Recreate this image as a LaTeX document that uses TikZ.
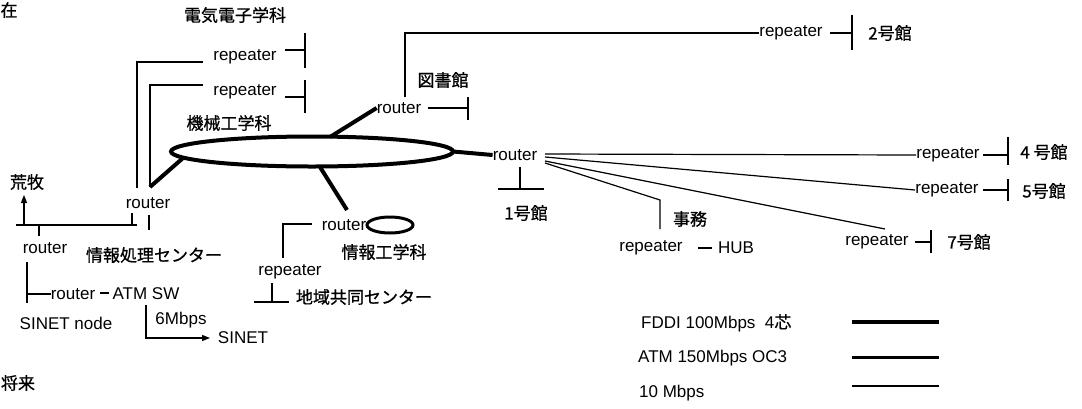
\documentclass[tikz,border=0pt]{standalone}
\usepackage{fontspec}
\setmainfont{Liberation Sans}
\newfontfamily\jpf{Noto Sans CJK JP}[FakeBold=0.8]
\usetikzlibrary{arrows.meta,shapes.geometric}
\begin{document}
\begin{tikzpicture}[x=1pt,y=-1pt,
  lab/.style={inner sep=0pt,font=\fontsize{17}{20}\selectfont},
  jlab/.style={inner sep=0pt,font=\fontsize{17}{20}\selectfont\jpf},
  tline/.style={line width=1.2pt},
  fddi/.style={line width=4pt},
  atmline/.style={line width=3pt},
  arr/.style={tline,-{Triangle[length=8pt,width=6pt]}},
  ringshape/.style={draw,ellipse,fddi,inner sep=0pt,outer sep=0pt}]
\useasboundingbox (0,0) rectangle (1082,408);

% ---------- text nodes ----------
\node[jlab] (now) at (9,10) {在};
\node[jlab] (future) at (18,383) {将来};
\node[jlab] (denki) at (235,15) {電気電子学科};
\node[lab] (rep1) at (245,57) {repeater};
\node[lab] (rep2) at (245,92) {repeater};
\node[jlab] (kikai) at (229,123) {機械工学科};
\node[jlab] (aramaki) at (27,182) {荒牧};
\node[lab] (rInfo) at (148,203) {router};
\node[lab] (rLow) at (45,248) {router};
\node[jlab] (center) at (154,255) {情報処理センター};
\node[lab] (rAtm) at (73,294) {router};
\node[lab] (atm) at (146,294) {ATM SW};
\node[lab] (sinetnode) at (66,323) {SINET node};
\node[lab] (mbps) at (181,320) {6Mbps};
\node[lab] (sinet) at (243,338) {SINET};

\node[lab] (rLib) at (399,108) {router};
\node[jlab] (lib) at (443,80) {図書館};
\node[lab] (rep2g) at (791,33) {repeater};
\node[jlab] (b2) at (890,33) {2号館};
\node[lab] (rMain) at (515,155) {router};
\node[jlab] (b1) at (526,213) {1号館};
\node[lab] (rep4) at (948,155) {repeater};
\node[jlab] (b4) at (1044,152) {4 号館};
\node[lab] (rep5) at (947,190) {repeater};
\node[jlab] (b5) at (1044,191) {5号館};
\node[lab] (rep7) at (877,242) {repeater};
\node[jlab] (b7) at (969,242) {7号館};
\node[jlab] (jimu) at (690,219) {事務};
\node[lab] (repj) at (651,248) {repeater};
\node[lab] (hub) at (736,248) {HUB};

\node[lab] (rJoho) at (344,225) {router};
\node[jlab] (joho) at (384,252) {情報工学科};
\node[lab] (repc) at (290,272) {repeater};
\node[jlab] (chiiki) at (364,297) {地域共同センター};

\node[lab,anchor=west] (lg1) at (641,323) {FDDI 100Mbps\ \ 4{\jpf 芯}};
\node[lab,anchor=west] (lg2) at (638,358) {ATM 150Mbps OC3};
\node[lab,anchor=west] (lg3) at (639,393) {10 Mbps};

% ---------- shapes ----------
\node[ringshape,minimum width=282pt,minimum height=30pt] (ring) at (312,151.5) {};
\node[draw,ellipse,atmline,inner sep=0pt,minimum width=46pt,minimum height=16pt] (loop) at (390,225) {};

% ---------- coordinates ----------
\coordinate (a1) at (137,188); \coordinate (a2) at (137,62); \coordinate (a3) at (203,62);
\coordinate (b1) at (150,187); \coordinate (b2) at (150,85); \coordinate (b3) at (203,85);
\coordinate (a4) at (285,50); \coordinate (a5) at (305,50); \coordinate (a6) at (305,33); \coordinate (a7) at (305,68);
\coordinate (b4) at (285,97); \coordinate (b5) at (305,97); \coordinate (b6) at (305,80); \coordinate (b7) at (305,113);
\coordinate (ringW) at (183,158);
\coordinate (i1) at (149,215); \coordinate (i2) at (149,230);
\coordinate (i3) at (132,213); \coordinate (i4) at (132,225);
\coordinate (h1) at (16,225); \coordinate (h2) at (137,225);
\coordinate (ar1) at (24,225); \coordinate (ar2) at (24,195);
\coordinate (l1) at (39,225); \coordinate (l2) at (39,236);
\coordinate (l3) at (27,262); \coordinate (l4) at (27,303); \coordinate (l5) at (27,294);
\coordinate (d1) at (100,293); \coordinate (d2) at (109,293);
\coordinate (s1) at (146,305); \coordinate (s2) at (146,338); \coordinate (s3) at (210,338);

\coordinate (ringN) at (330,137);
\coordinate (t1) at (405,97); \coordinate (t2) at (405,33);
\coordinate (t4) at (428,108); \coordinate (t5) at (468,108); \coordinate (t6) at (468,97); \coordinate (t7) at (468,120);
\coordinate (u1) at (830,33); \coordinate (u2) at (852,33); \coordinate (u3) at (852,15); \coordinate (u4) at (852,50);
\coordinate (m1) at (520,167); \coordinate (m2) at (520,189); \coordinate (m3) at (498,189); \coordinate (m4) at (544,189);
\coordinate (f1) at (545,154); \coordinate (f2) at (545,157); \coordinate (f3) at (545,161); \coordinate (f4) at (545,163);
\coordinate (f3e) at (885,229); \coordinate (f4e) at (660,200); \coordinate (f4f) at (660,229);
\coordinate (g1) at (983,155); \coordinate (g2) at (1008,155); \coordinate (g3) at (1008,137); \coordinate (g4) at (1008,165);
\coordinate (k1) at (983,190); \coordinate (k2) at (1008,190); \coordinate (k3) at (1008,179); \coordinate (k4) at (1008,201);
\coordinate (n1) at (915,242); \coordinate (n2) at (931,242); \coordinate (n3) at (931,230); \coordinate (n4) at (931,253);
\coordinate (o1) at (698,248); \coordinate (o2) at (712,248);
\coordinate (ringS) at (320,167); \coordinate (j1) at (347,210);
\coordinate (j2) at (312,224); \coordinate (j3) at (283,224); \coordinate (j4) at (283,258);
\coordinate (j5) at (272,283); \coordinate (j6) at (272,302); \coordinate (j7) at (254,302); \coordinate (j8) at (289,302);
\coordinate (e1) at (852,322); \coordinate (e2) at (939,322);
\coordinate (e3) at (852,357); \coordinate (e4) at (939,357);
\coordinate (e5) at (852,386); \coordinate (e6) at (939,386);

% ---------- thin connectors ----------
\draw[tline] (a1) -- (a2) -- (a3);
\draw[tline] (b1) -- (b2) -- (b3);
\draw[tline] (a4) -- (a5); \draw[tline] (a6) -- (a7);
\draw[tline] (b4) -- (b5); \draw[tline] (b6) -- (b7);
\draw[tline] (i1) -- (i2);
\draw[tline] (i3) -- (i4);
\draw[tline] (h1) -- (h2);
\draw[arr] (ar1) -- (ar2);
\draw[tline] (l1) -- (l2);
\draw[tline] (l3) -- (l4);
\draw[tline] (l5) -- (rAtm.west);
\draw[tline] (d1) -- (d2);
\draw[arr] (s1) -- (s2) -- (s3);

\draw[tline] (t1) -- (t2) -- (rep2g.west);
\draw[tline] (t4) -- (t5); \draw[tline] (t6) -- (t7);
\draw[tline] (u1) -- (u2); \draw[tline] (u3) -- (u4);
\draw[tline] (m1) -- (m2); \draw[tline] (m3) -- (m4);
\draw[tline] (f1) -- (rep4.west);
\draw[tline] (f2) -- (rep5.west);
\draw[tline] (f3) -- (f3e);
\draw[tline] (f4) -- (f4e) -- (f4f);
\draw[tline] (g1) -- (g2); \draw[tline] (g3) -- (g4);
\draw[tline] (k1) -- (k2); \draw[tline] (k3) -- (k4);
\draw[tline] (n1) -- (n2); \draw[tline] (n3) -- (n4);
\draw[tline] (o1) -- (o2);
\draw[tline] (j2) -- (j3) -- (j4);
\draw[tline] (j5) -- (j6); \draw[tline] (j7) -- (j8);

% ---------- thick connectors ----------
\draw[fddi] (ringW) -- (b1);
\draw[fddi] (ringN) -- (rLib.west);
\draw[fddi] (ring.east) -- (rMain.west);
\draw[fddi] (ringS) -- (j1);

% ---------- legend ----------
\draw[fddi] (e1) -- (e2);
\draw[atmline] (e3) -- (e4);
\draw[tline] (e5) -- (e6);
\end{tikzpicture}
\end{document}
